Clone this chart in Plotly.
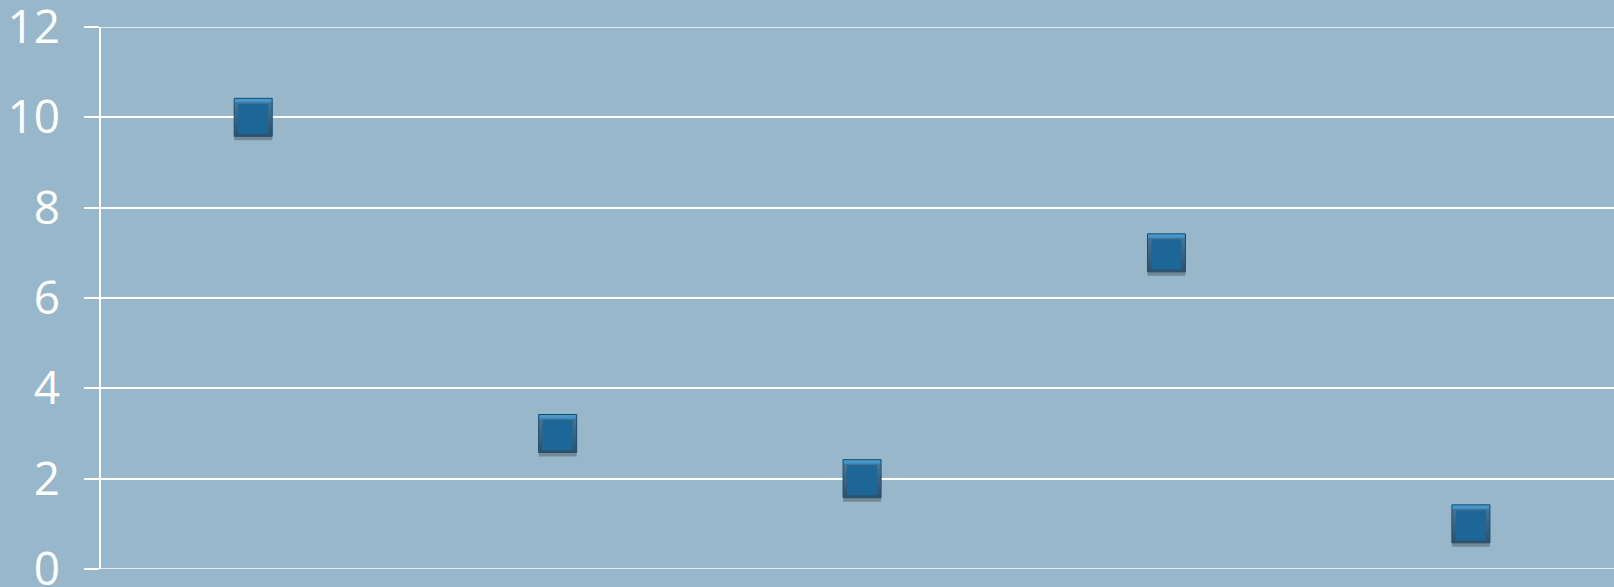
import plotly.graph_objects as go

categories = ["A", "B", "C", "D", "E"]
values = [10, 3, 2, 7, 1]
y_ticks = [0, 2, 4, 6, 8, 10, 12]

BG = "#98b7ca"
XR = [-0.5, 4.47]
YR = [0, 12]
PX = 12 / 542.0  # data units per pixel on y


def shifted(px_down):
    d = px_down * PX
    return [YR[0] + d, YR[1] + d]


fig = go.Figure()
# soft shadow under markers
fig.add_trace(go.Scatter(
    x=categories, y=values, mode="markers",
    marker=dict(symbol="square", size=38, color="rgba(70,80,90,0.45)", line=dict(width=0)),
    hoverinfo="skip", showlegend=False, xaxis="x2", yaxis="y2"))
# main markers with vertical gradient (bevel)
fig.add_trace(go.Scatter(
    x=categories, y=values, mode="markers",
    marker=dict(symbol="square", size=38, color="#4a9ad0",
                gradient=dict(type="vertical", color="#14547f"),
                line=dict(color="#144c73", width=1)),
    showlegend=False))
# inner face
fig.add_trace(go.Scatter(
    x=categories, y=values, mode="markers",
    marker=dict(symbol="square", size=30, color="#1c6698", line=dict(width=0)),
    hoverinfo="skip", showlegend=False, xaxis="x2", yaxis="y3"))

for t in (YR[0], YR[1]):
    fig.add_shape(type="line", xref="paper", x0=0, x1=1, yref="y", y0=t, y1=t,
                  line=dict(color="white", width=1.5), layer="below")

fig.update_layout(
    width=1614, height=587,
    paper_bgcolor=BG, plot_bgcolor=BG,
    margin=dict(l=101, r=0, t=27, b=18, autoexpand=False),
    font=dict(family="Open Sans, DejaVu Sans, sans-serif", color="white", size=46),
    xaxis=dict(type="category", range=XR, showticklabels=False, automargin=False,
               showgrid=False, zeroline=False, showline=False, ticks=""),
    yaxis=dict(range=YR, tickvals=y_ticks, showgrid=True, gridcolor="white",
               gridwidth=1.5, zeroline=False, showline=True, linecolor="white",
               linewidth=1.5, ticks="outside", ticklen=15, tickcolor="white",
               tickwidth=1.5, ticklabelstandoff=15, ticklabeloverflow="allow",
               automargin=False),
    xaxis2=dict(type="category", range=XR, overlaying="x", visible=False),
    yaxis2=dict(range=shifted(4), overlaying="y", visible=False),
    yaxis3=dict(range=shifted(1.5), overlaying="y", visible=False),
)

fig.write_html("out.html")
